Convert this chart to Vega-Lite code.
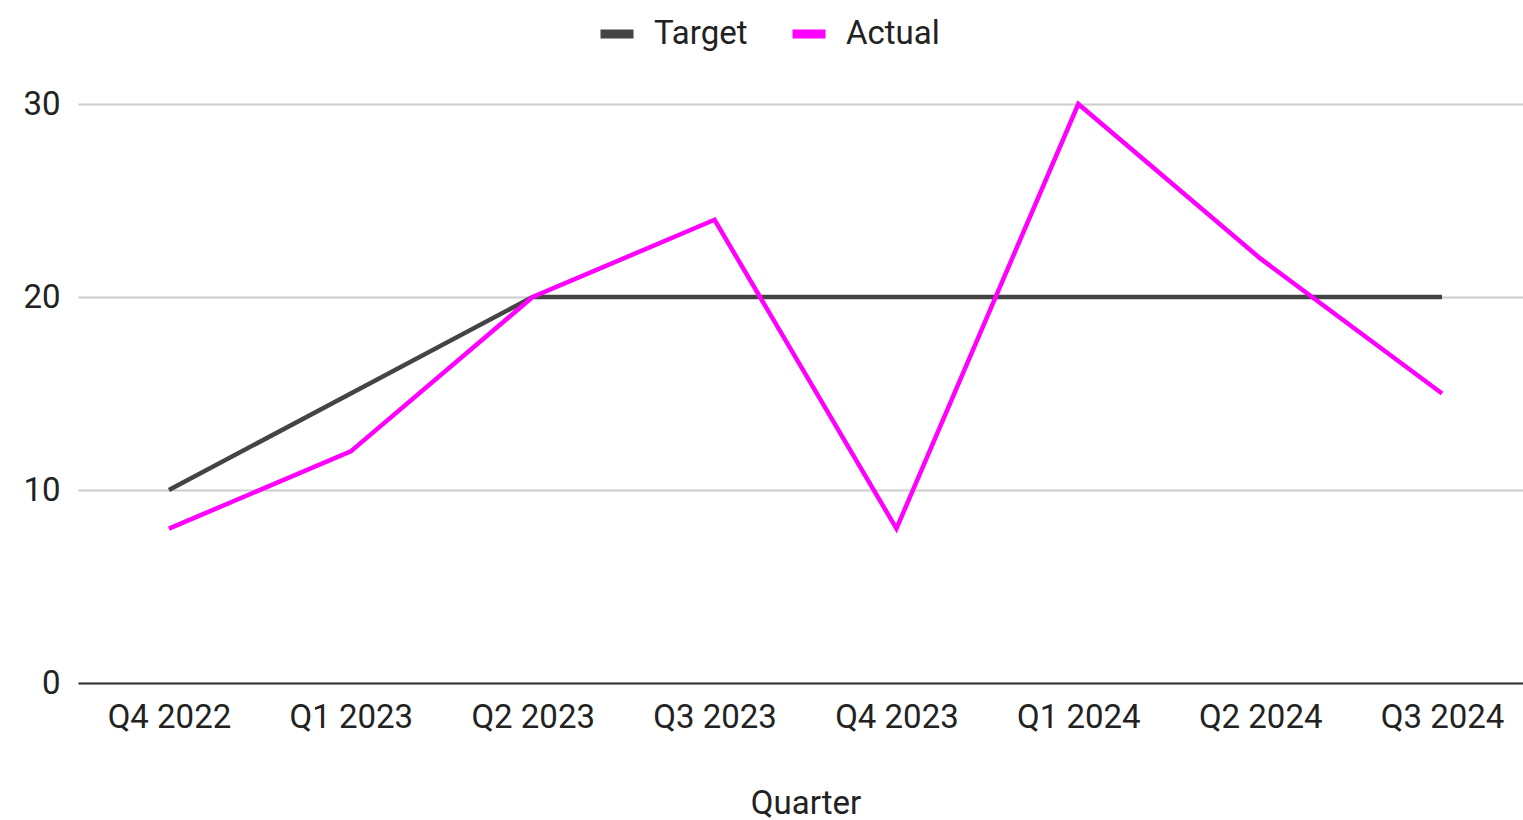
{
  "$schema": "https://vega.github.io/schema/vega-lite/v6.json",
  "width": 1455,
  "height": 579,
  "autosize": {"type": "none"},
  "padding": {"left": 78, "top": 104, "right": 0, "bottom": 137},
  "background": "white",
  "config": {
    "font": "Roboto",
    "view": {"stroke": null}
  },
  "data": {
    "values": [
      {"quarter": "Q4 2022", "series": "Target", "value": 10},
      {"quarter": "Q1 2023", "series": "Target", "value": 15},
      {"quarter": "Q2 2023", "series": "Target", "value": 20},
      {"quarter": "Q3 2023", "series": "Target", "value": 20},
      {"quarter": "Q4 2023", "series": "Target", "value": 20},
      {"quarter": "Q1 2024", "series": "Target", "value": 20},
      {"quarter": "Q2 2024", "series": "Target", "value": 20},
      {"quarter": "Q3 2024", "series": "Target", "value": 20},
      {"quarter": "Q4 2022", "series": "Actual", "value": 8},
      {"quarter": "Q1 2023", "series": "Actual", "value": 12},
      {"quarter": "Q2 2023", "series": "Actual", "value": 20},
      {"quarter": "Q3 2023", "series": "Actual", "value": 24},
      {"quarter": "Q4 2023", "series": "Actual", "value": 8},
      {"quarter": "Q1 2024", "series": "Actual", "value": 30},
      {"quarter": "Q2 2024", "series": "Actual", "value": 22},
      {"quarter": "Q3 2024", "series": "Actual", "value": 15}
    ]
  },
  "mark": {"type": "line", "strokeWidth": 4.5, "strokeJoin": "miter"},
  "encoding": {
    "x": {
      "field": "quarter",
      "type": "ordinal",
      "sort": null,
      "scale": {"type": "point", "padding": 0.5},
      "axis": {
        "title": "Quarter",
        "titleFont": "Roboto",
        "titleFontSize": 33,
        "titleFontWeight": "normal",
        "titleColor": "#222222",
        "titlePadding": 53,
        "labelFont": "Roboto",
        "labelFontSize": 33,
        "labelColor": "#222222",
        "labelAngle": 0,
        "labelPadding": 18,
        "ticks": false,
        "domainColor": "#333333",
        "domainWidth": 2,
        "grid": false
      }
    },
    "y": {
      "field": "value",
      "type": "quantitative",
      "scale": {"domain": [0, 30], "nice": false},
      "axis": {
        "title": null,
        "values": [0, 10, 20, 30],
        "labelFont": "Roboto",
        "labelFontSize": 33,
        "labelColor": "#222222",
        "labelPadding": 18,
        "ticks": false,
        "domain": false,
        "gridColor": "#cccccc",
        "gridWidth": 2
      }
    },
    "color": {
      "field": "series",
      "type": "nominal",
      "sort": ["Target", "Actual"],
      "scale": {"domain": ["Target", "Actual"], "range": ["#444444", "#ff00ff"]},
      "legend": {
        "title": null,
        "orient": "none",
        "direction": "horizontal",
        "legendX": 518,
        "legendY": -91,
        "symbolType": "stroke",
        "symbolSize": 1089,
        "symbolStrokeWidth": 9,
        "labelFont": "Roboto",
        "labelFontSize": 33,
        "labelColor": "#222222",
        "labelOffset": 16,
        "columnPadding": 26
      }
    }
  }
}
